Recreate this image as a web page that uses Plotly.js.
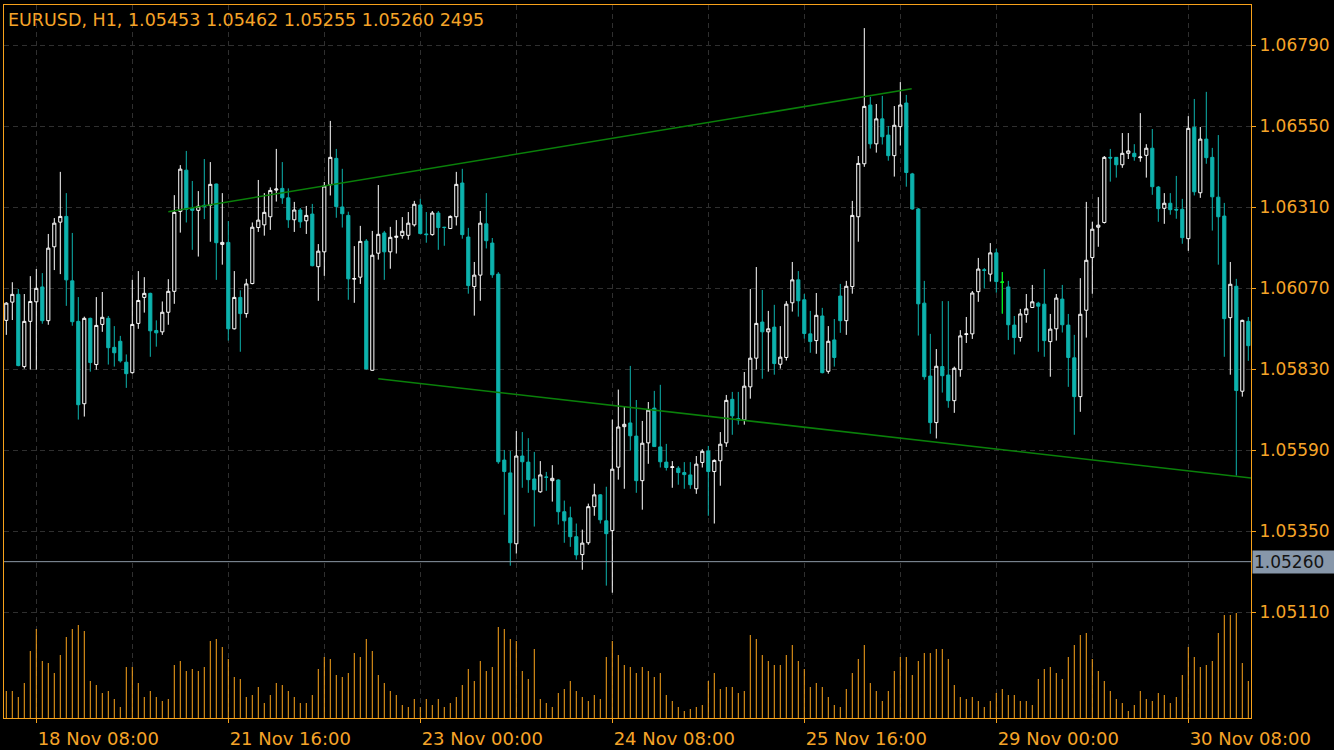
<!DOCTYPE html>
<html><head><meta charset="utf-8">
<script src="https://cdn.plot.ly/plotly-3.0.1.min.js"></script>
<style>html,body{margin:0;padding:0;background:#000;}#chart{width:1334px;height:750px;}</style>
</head><body><div id="chart"></div>
<script>
const SYMBOL_TITLE = "EURUSD, H1, 1.05453 1.05462 1.05255 1.05260 2495";

const OPEN = [1.05975,1.06029,1.06052,1.05838,1.05972,1.06030,1.06074,1.05974,1.06193,1.06266,
 1.06283,1.06092,1.05972,1.05728,1.05981,1.05844,1.05963,1.05981,1.05895,1.05913,
 1.05851,1.05820,1.05966,1.06043,1.06055,1.05945,1.05941,1.05999,1.06061,1.06298,
 1.06420,1.06307,1.06301,1.06316,1.06316,1.06379,1.06200,1.06206,1.05950,1.06043,
 1.05995,1.06084,1.06250,1.06258,1.06282,1.06361,1.06366,1.06338,1.06273,1.06302,
 1.06270,1.06290,1.06134,1.06178,1.06377,1.06455,1.06311,1.06286,1.06097,1.06103,
 1.06210,1.05827,1.06174,1.06234,1.06178,1.06221,1.06226,1.06227,1.06258,1.06317,
 1.06231,1.06229,1.06293,1.06251,1.06247,1.06282,1.06382,1.06222,1.06075,1.06109,
 1.06261,1.06204,1.06112,1.05561,1.05523,1.05313,1.05573,1.05555,1.05505,1.05467,
 1.05511,1.05500,1.05502,1.05408,1.05390,1.05334,1.05281,1.05316,1.05423,1.05458,
 1.05381,1.05352,1.05540,1.05660,1.05671,1.05632,1.05500,1.05612,1.05715,1.05600,
 1.05555,1.05539,1.05537,1.05524,1.05517,1.05476,1.05554,1.05588,1.05527,1.05559,
 1.05612,1.05741,1.05684,1.05680,1.05778,1.05863,1.05970,1.05941,1.05955,1.05845,
 1.05865,1.06027,1.06095,1.06036,1.05935,1.05915,1.05988,1.05824,1.05917,1.06047,
 1.05974,1.06075,1.06282,1.06439,1.06613,1.06498,1.06572,1.06524,1.06463,1.06549,
 1.06619,1.06409,1.06305,1.06026,1.05810,1.05672,1.05838,1.05813,1.05737,1.05829,
 1.05933,1.05935,1.06060,1.06125,1.06112,1.06175,1.06088,1.06074,1.05961,1.05924,
 1.05992,1.06013,1.06026,1.06023,1.05912,1.05950,1.06038,1.05961,1.05864,1.05749,
 1.06005,1.06161,1.06251,1.06265,1.06458,1.06458,1.06436,1.06470,1.06470,1.06457,
 1.06464,1.06485,1.06370,1.06307,1.06322,1.06304,1.06304,1.06217,1.06547,1.06353,
 1.06512,1.06458,1.06340,1.06284,1.05983,1.06076,1.05765,1.05972];

const HIGH = [1.06029,1.06088,1.06068,1.06053,1.06106,1.06127,1.06115,1.06231,1.06278,1.06415,
 1.06352,1.06234,1.06044,1.05986,1.05983,1.06044,1.06059,1.05988,1.05958,1.05929,
 1.05874,1.06095,1.06121,1.06103,1.06057,1.05975,1.06031,1.06097,1.06346,1.06435,
 1.06477,1.06388,1.06358,1.06453,1.06444,1.06380,1.06352,1.06269,1.06121,1.06064,
 1.06098,1.06265,1.06391,1.06352,1.06369,1.06483,1.06444,1.06366,1.06326,1.06308,
 1.06314,1.06320,1.06201,1.06385,1.06566,1.06483,1.06424,1.06297,1.06195,1.06255,
 1.06216,1.06240,1.06376,1.06240,1.06252,1.06272,1.06281,1.06296,1.06329,1.06335,
 1.06296,1.06299,1.06299,1.06252,1.06286,1.06415,1.06424,1.06249,1.06148,1.06299,
 1.06352,1.06219,1.06118,1.05591,1.05588,1.05647,1.05644,1.05626,1.05585,1.05558,
 1.05526,1.05546,1.05504,1.05441,1.05423,1.05373,1.05355,1.05432,1.05491,1.05460,
 1.05482,1.05681,1.05770,1.05720,1.05840,1.05739,1.05677,1.05733,1.05766,1.05784,
 1.05609,1.05558,1.05543,1.05555,1.05555,1.05573,1.05593,1.05603,1.05563,1.05644,
 1.05754,1.05763,1.05763,1.05822,1.06068,1.06133,1.06065,1.06003,1.06021,1.05958,
 1.06032,1.06148,1.06121,1.06053,1.06003,1.06056,1.06012,1.05958,1.05979,1.06083,
 1.06092,1.06329,1.06462,1.06841,1.06637,1.06616,1.06640,1.06551,1.06610,1.06681,
 1.06643,1.06412,1.06308,1.06092,1.05935,1.05890,1.06032,1.06032,1.05838,1.05946,
 1.05985,1.06062,1.06160,1.06130,1.06204,1.06187,1.06118,1.06092,1.05988,1.06009,
 1.06053,1.06080,1.06030,1.06127,1.05994,1.06053,1.06080,1.05994,1.05932,1.06100,
 1.06326,1.06267,1.06340,1.06462,1.06483,1.06459,1.06530,1.06530,1.06497,1.06589,
 1.06497,1.06542,1.06373,1.06352,1.06352,1.06403,1.06335,1.06580,1.06631,1.06548,
 1.06652,1.06486,1.06524,1.06323,1.06148,1.06098,1.05977,1.05985];

const LOW = [1.05932,1.05976,1.05839,1.05832,1.05829,1.05829,1.05965,1.05962,1.06124,1.06112,
 1.06018,1.05959,1.05681,1.05690,1.05823,1.05829,1.05941,1.05844,1.05838,1.05850,
 1.05775,1.05817,1.05950,1.05998,1.05867,1.05897,1.05932,1.05962,1.06024,1.06235,
 1.06265,1.06184,1.06164,1.06275,1.06208,1.06095,1.06140,1.05915,1.05948,1.05882,
 1.05983,1.06082,1.06237,1.06226,1.06243,1.06327,1.06320,1.06249,1.06237,1.06249,
 1.06231,1.06135,1.06033,1.06107,1.06345,1.06279,1.06250,1.06036,1.06027,1.06083,
 1.05829,1.05826,1.06155,1.06095,1.06128,1.06173,1.06217,1.06214,1.06253,1.06231,
 1.06205,1.06226,1.06184,1.06196,1.06246,1.06256,1.06217,1.06054,1.05989,1.06033,
 1.06188,1.06101,1.05550,1.05399,1.05248,1.05284,1.05479,1.05464,1.05364,1.05464,
 1.05470,1.05438,1.05370,1.05316,1.05304,1.05266,1.05236,1.05310,1.05396,1.05373,
 1.05189,1.05168,1.05503,1.05476,1.05589,1.05464,1.05414,1.05550,1.05600,1.05539,
 1.05530,1.05479,1.05488,1.05476,1.05476,1.05461,1.05539,1.05396,1.05373,1.05485,
 1.05600,1.05636,1.05666,1.05666,1.05743,1.05829,1.05802,1.05823,1.05814,1.05832,
 1.05856,1.06001,1.05986,1.05921,1.05879,1.05876,1.05818,1.05817,1.05838,1.05938,
 1.05932,1.06054,1.06208,1.06430,1.06484,1.06472,1.06496,1.06448,1.06401,1.06493,
 1.06371,1.06303,1.05930,1.05799,1.05639,1.05625,1.05761,1.05716,1.05701,1.05808,
 1.05908,1.05920,1.06030,1.06069,1.06090,1.06057,1.05995,1.05917,1.05874,1.05912,
 1.05968,1.06012,1.05882,1.05867,1.05808,1.05915,1.05939,1.05778,1.05636,1.05704,
 1.05924,1.06054,1.06193,1.06262,1.06386,1.06398,1.06427,1.06453,1.06448,1.06445,
 1.06398,1.06347,1.06267,1.06261,1.06288,1.06276,1.06202,1.06181,1.06345,1.06338,
 1.06439,1.06241,1.06140,1.05867,1.05814,1.05515,1.05749,1.05855];

const CLOSE = [1.06026,1.06052,1.05841,1.05972,1.06031,1.06070,1.05974,1.06189,1.06263,1.06283,
 1.06095,1.05971,1.05725,1.05981,1.05850,1.05960,1.05984,1.05894,1.05879,1.05855,
 1.05817,1.05963,1.06034,1.06055,1.05944,1.05938,1.05999,1.06061,1.06295,1.06423,
 1.06304,1.06301,1.06313,1.06312,1.06378,1.06205,1.06206,1.05950,1.06043,1.05995,
 1.06083,1.06251,1.06272,1.06295,1.06360,1.06364,1.06338,1.06273,1.06302,1.06267,
 1.06286,1.06137,1.06180,1.06373,1.06458,1.06312,1.06291,1.06098,1.06099,1.06209,
 1.05831,1.06168,1.06230,1.06178,1.06221,1.06224,1.06239,1.06263,1.06319,1.06232,
 1.06229,1.06293,1.06250,1.06250,1.06283,1.06378,1.06229,1.06078,1.06109,1.06263,
 1.06211,1.06110,1.05556,1.05527,1.05316,1.05573,1.05556,1.05503,1.05473,1.05517,
 1.05510,1.05507,1.05408,1.05381,1.05334,1.05280,1.05315,1.05423,1.05458,1.05384,
 1.05343,1.05534,1.05659,1.05667,1.05633,1.05500,1.05611,1.05709,1.05601,1.05556,
 1.05539,1.05541,1.05524,1.05518,1.05488,1.05549,1.05587,1.05527,1.05560,1.05608,
 1.05738,1.05692,1.05680,1.05780,1.05863,1.05966,1.05941,1.05950,1.05847,1.05866,
 1.06023,1.06095,1.06033,1.05936,1.05912,1.05990,1.05820,1.05913,1.05865,1.05974,
 1.06076,1.06286,1.06440,1.06609,1.06498,1.06572,1.06519,1.06463,1.06553,1.06613,
 1.06413,1.06305,1.06024,1.05808,1.05672,1.05839,1.05811,1.05737,1.05833,1.05929,
 1.05935,1.06056,1.06127,1.06123,1.06175,1.06090,1.06088,1.05962,1.05924,1.05994,
 1.06009,1.06030,1.06017,1.05915,1.05949,1.06041,1.05962,1.05865,1.05749,1.05993,
 1.06153,1.06245,1.06257,1.06458,1.06456,1.06436,1.06470,1.06477,1.06460,1.06459,
 1.06485,1.06371,1.06306,1.06322,1.06303,1.06302,1.06220,1.06544,1.06356,1.06512,
 1.06457,1.06341,1.06282,1.05980,1.06082,1.05767,1.05975,1.05900];

const VOLUME = [27,27,21,35,67,89,57,55,45,63,
 81,89,93,87,37,33,25,27,19,11,
 51,51,35,21,27,21,17,19,53,57,
 47,49,47,51,77,79,71,59,41,39,
 21,23,31,15,23,35,33,27,21,15,
 15,23,49,61,59,43,41,45,65,61,
 79,67,43,35,27,23,13,11,19,11,
 19,13,19,11,15,21,33,49,37,57,
 47,51,91,89,79,77,47,39,69,19,
 15,11,25,29,37,27,21,17,23,19,
 61,77,63,53,51,45,51,47,41,45,
 23,17,11,7,9,11,13,37,45,29,
 31,31,25,27,83,79,63,57,53,53,
 63,73,57,49,31,35,31,21,13,11,
 29,45,59,73,35,27,17,27,47,61,
 61,43,57,65,65,69,69,59,33,21,
 19,21,17,11,17,25,29,23,23,17,
 17,13,39,49,51,45,39,61,73,83,
 85,59,47,37,27,19,15,7,13,27,
 19,17,25,23,15,21,43,71,61,51,
 53,57,85,103,103,105,55,37];

const TIME_TICK_BARS = [5, 37, 69, 101, 133, 165, 197];
const TIME_TICK_LABELS = ["18 Nov 08:00", "21 Nov 16:00", "23 Nov 00:00", "24 Nov 08:00",
                          "25 Nov 16:00", "29 Nov 00:00", "30 Nov 08:00"];
const PRICE_TICKS = [1.05110, 1.05350, 1.05590, 1.05830, 1.06070, 1.06310, 1.06550, 1.06790];
const PRICE_TICK_LABELS = ["1.05110", "1.05350", "1.05590", "1.05830", "1.06070", "1.06310", "1.06550", "1.06790"];
const BID_PRICE = 1.05260;
const BID_LABEL = "1.05260";
const TREND1_BARS = [27.0, 150.9];
const TREND1_PRICES = [1.06297, 1.06661];
const TREND2_BARS = [62.0, 207.45];
const TREND2_PRICES = [1.05802, 1.05508];

const ORANGE = '#f7a21b';
const TEXT_ORANGE = '#f5a428';
const TEAL = '#0db3ae';
const GRID = '#2f2f2f';
const FONT = 'DejaVu Sans';

const X = OPEN.map((_, i) => i);
const dojiIdx = X.filter(i => OPEN[i] === CLOSE[i]);

const traces = [
  {
    type: 'bar', x: X, y: VOLUME, yaxis: 'y2',
    marker: {color: ORANGE, line: {width: 0}}, width: 0.17,
    hoverinfo: 'skip'
  },
  {
    type: 'candlestick', x: X, open: OPEN, high: HIGH, low: LOW, close: CLOSE,
    increasing: {line: {color: '#ffffff', width: 1}, fillcolor: '#000000'},
    decreasing: {line: {color: TEAL, width: 1}, fillcolor: TEAL},
    whiskerwidth: 0, hoverinfo: 'skip'
  },
  {
    type: 'candlestick',
    x: dojiIdx, open: dojiIdx.map(i => OPEN[i]), high: dojiIdx.map(i => HIGH[i]),
    low: dojiIdx.map(i => LOW[i]), close: dojiIdx.map(i => CLOSE[i]),
    increasing: {line: {color: '#00ff00', width: 1}, fillcolor: '#00ff00'},
    decreasing: {line: {color: '#00ff00', width: 1}, fillcolor: '#00ff00'},
    whiskerwidth: 0, hoverinfo: 'skip'
  }
];

const layout = {
  width: 1334, height: 750,
  paper_bgcolor: '#000000', plot_bgcolor: '#000000',
  margin: {l: 4, r: 83, t: 5, b: 32, pad: 0},
  showlegend: false, hovermode: false,
  boxgap: 0.25,
  title: {
    text: SYMBOL_TITLE, xref: 'container', yref: 'container',
    x: 8 / 1334, xanchor: 'left', y: 1 - 19.5 / 750, yanchor: 'middle',
    font: {family: FONT, size: 17.5, color: TEXT_ORANGE}
  },
  xaxis: {
    range: [-0.383, 207.45], tickmode: 'array', tickvals: TIME_TICK_BARS, ticktext: TIME_TICK_LABELS,
    ticks: 'outside', ticklen: 4, tickcolor: ORANGE, tickwidth: 1,
    tickfont: {family: FONT, size: 18, color: TEXT_ORANGE}, ticklabelshift: 62,
    showgrid: true, gridcolor: GRID, griddash: '5px,4px', gridwidth: 1,
    minor: {tick0: 5, dtick: 16, showgrid: true, gridcolor: GRID, griddash: '5px,4px', gridwidth: 1, ticks: ''},
    showline: true, linecolor: ORANGE, linewidth: 1, mirror: true,
    zeroline: false, rangeslider: {visible: false}, fixedrange: true
  },
  yaxis: {
    range: [1.047968, 1.069094], side: 'right',
    tickmode: 'array', tickvals: PRICE_TICKS, ticktext: PRICE_TICK_LABELS,
    ticks: 'outside', ticklen: 4, tickcolor: ORANGE, tickwidth: 1,
    tickfont: {family: FONT, size: 17, color: TEXT_ORANGE},
    showgrid: true, gridcolor: GRID, griddash: '5px,4px', gridwidth: 1,
    showline: true, linecolor: ORANGE, linewidth: 1, mirror: true,
    zeroline: false, fixedrange: true
  },
  yaxis2: {overlaying: 'y', range: [0, 713], visible: false, fixedrange: true},
  shapes: [
    {type: 'line', xref: 'paper', yref: 'y', x0: 0, x1: 1, y0: BID_PRICE, y1: BID_PRICE,
     line: {color: '#8d99a6', width: 1}},
    {type: 'line', xref: 'x', yref: 'y', x0: TREND1_BARS[0], x1: TREND1_BARS[1],
     y0: TREND1_PRICES[0], y1: TREND1_PRICES[1], line: {color: '#0a800a', width: 1.6}},
    {type: 'line', xref: 'x', yref: 'y', x0: TREND2_BARS[0], x1: TREND2_BARS[1],
     y0: TREND2_PRICES[0], y1: TREND2_PRICES[1], line: {color: '#0a800a', width: 1.6}}
  ],
  annotations: [
    {xref: 'paper', yref: 'y', x: 1, y: BID_PRICE, xanchor: 'left', yanchor: 'middle',
     text: BID_LABEL, showarrow: false, bgcolor: '#8797aa', borderpad: 1, xshift: 1,
     width: 80, height: 20, align: 'left',
     font: {family: FONT, size: 17, color: '#141414'}}
  ]
};

Plotly.newPlot('chart', traces, layout, {staticPlot: true, displayModeBar: false});
</script>
</body></html>
